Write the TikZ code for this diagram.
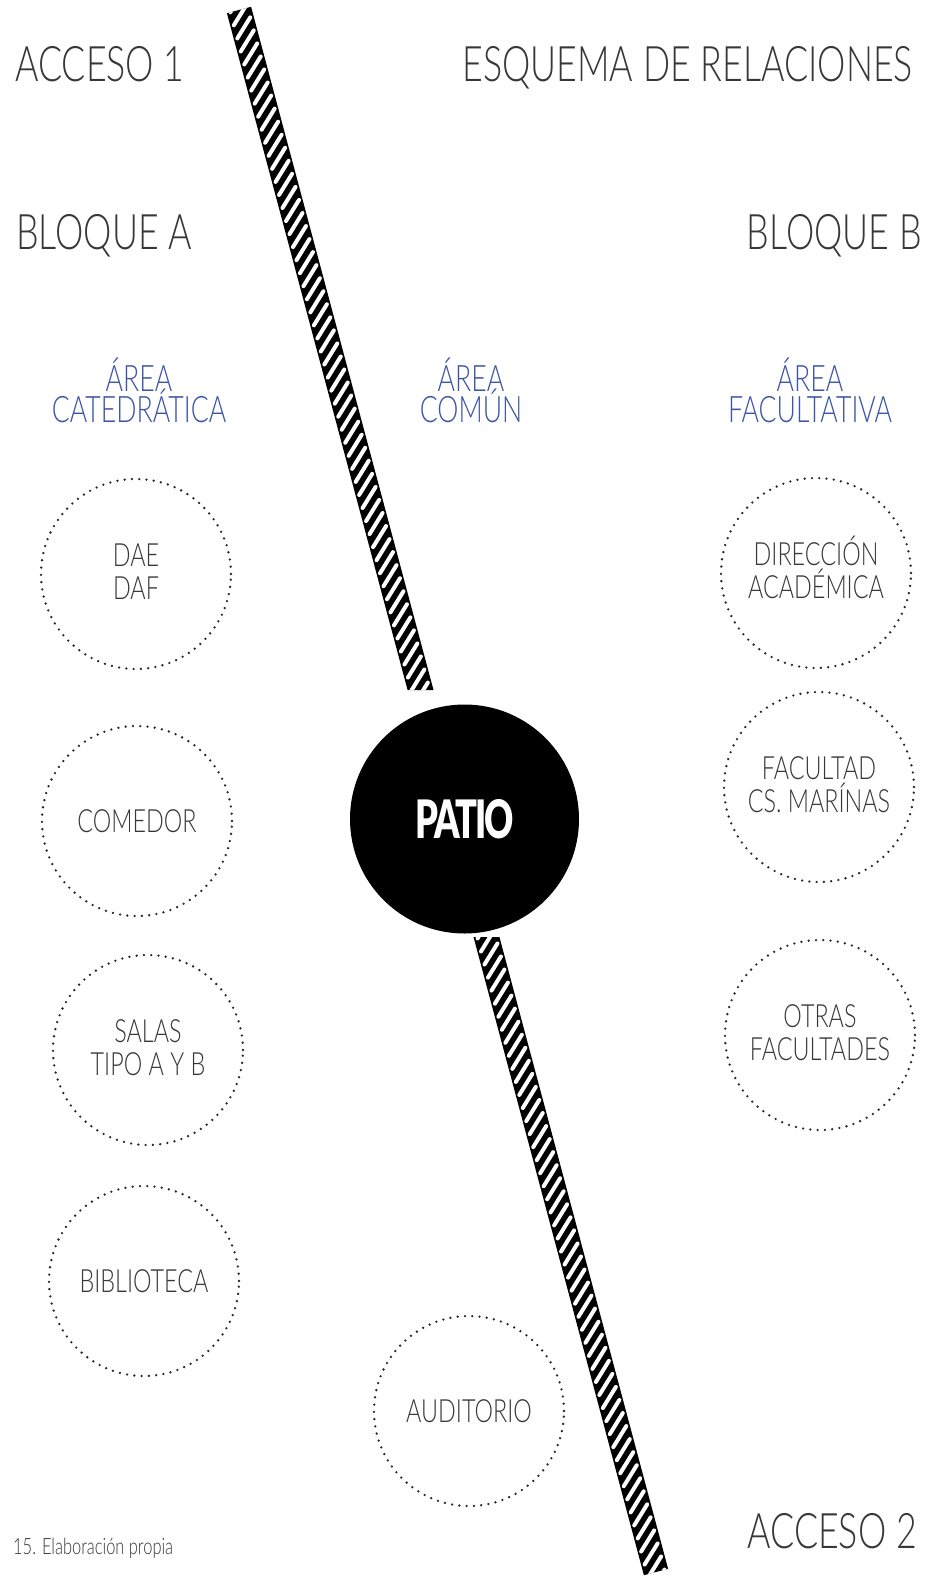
\documentclass[tikz,border=0pt]{standalone}
\usepackage{fontspec}
\setmainfont{Lato}[UprightFont={* Light}, FakeStretch=0.73]
\newfontfamily\patiofont{Lato}[UprightFont={* Black}, FakeStretch=0.68, LetterSpace=-4]
\usepackage{tikz}
\definecolor{areablue}{RGB}{60,85,165}
\definecolor{textgray}{RGB}{55,55,55}
\definecolor{dotgray}{RGB}{40,40,40}
\newcommand\tightlines{\lineskiplimit=-50pt\relax}

\begin{document}
\begin{tikzpicture}[x=1pt,y=-1pt,
  title/.style={font=\fontsize{49}{49}\selectfont, text=textgray, inner sep=0pt, text height=35pt, text depth=0pt},
  area/.style={font={\fontsize{36.5}{30.5}\selectfont\tightlines}, text=areablue, inner sep=0pt,
    align=center, text height=20pt, text depth=20pt},
  spot/.style={circle, draw=dotgray, line width=2.6pt, line cap=round, dash pattern=on 0pt off 7.3pt,
    minimum size=190pt, inner sep=0pt, align=center, text=textgray,
    font={\fontsize{32}{33}\selectfont\tightlines}},
  twolines/.style={text height=54pt, text depth=3pt},
  stripe/.style={white, line width=4pt, line cap=round}]
\useasboundingbox (0,0) rectangle (929,1576);
% band
\begin{scope}
\clip (0,0) rectangle (929,690) (0,937) rectangle (929,1576);
\fill[black] (226.9,13.2) -- (251.1,6.8) -- (668.1,1568.8) -- (643.9,1575.2) -- cycle;
\clip (226.9,13.2) -- (251.1,6.8) -- (668.1,1568.8) -- (643.9,1575.2) -- cycle;
\foreach \k in {0,...,121} {
  \pgfmathsetmacro\s{13.5*\k}
  \draw[stripe] ({239+0.2579*\s-9*0.9662},{10+0.9662*\s+9*0.2579})
    -- ({239+0.2579*(\s-17)+9*0.9662},{10+0.9662*(\s-17)-9*0.2579});
}
\end{scope}
% titles
\node[title, anchor=west] (acceso1) at (15,64) {ACCESO 1};
\node[title, anchor=east] (esquema) at (913,64) {ESQUEMA DE RELACIONES};
\node[title, anchor=west] (bloquea) at (16,232) {BLOQUE A};
\node[title, anchor=east] (bloqueb) at (922,232) {BLOQUE B};
\node[title, anchor=east] (acceso2) at (917,1531) {ACCESO 2};
% areas
\node[area] (catedra) at (139,422) {ÁREA\\CATEDRÁTICA};
\node[area] (comun) at (471,422) {ÁREA\\COMÚN};
\node[area] (facultad) at (810,422) {ÁREA\\FACULTATIVA};
% bloque a
\node[spot, twolines] (dae) at (136,574) {DAE\\DAF};
\node[spot] (comedor) at (137,821) {COMEDOR};
\node[spot, twolines] (salas) at (148,1050) {SALAS\\TIPO A Y B};
\node[spot] (biblio) at (144,1281) {BIBLIOTECA};
% bloque b
\node[spot, twolines] (direccion) at (816,573) {DIRECCIÓN\\ACADÉMICA};
\node[spot, twolines] (marinas) at (819,787) {FACULTAD\\CS. MARÍNAS};
\node[spot, twolines] (otras) at (820,1035) {OTRAS\\FACULTADES};
% comun
\node[spot] (auditorio) at (469,1411) {AUDITORIO};
\node[circle, fill=black, minimum size=229pt, inner sep=0pt, text=white,
  font=\patiofont\fontsize{53}{53}\selectfont] (patio) at (464.5,819) {PATIO};
\node[anchor=west, inner sep=0pt, text=textgray, font=\fontsize{22.5}{22.5}\selectfont] (fuente) at (13,1548) {15. Elaboración propia};
\end{tikzpicture}
\end{document}
